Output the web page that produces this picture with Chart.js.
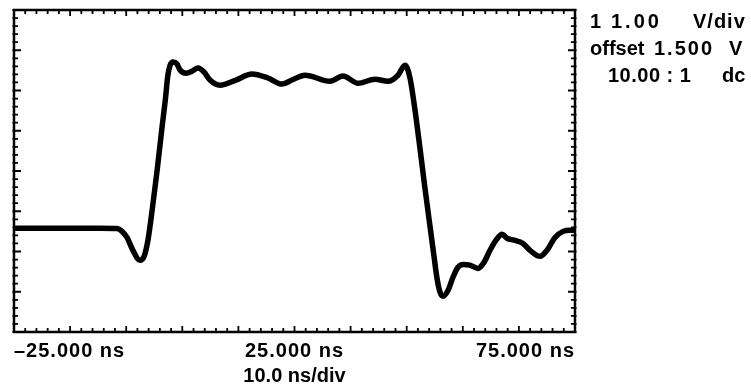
<!DOCTYPE html>
<html><head><meta charset="utf-8">
<script src="https://cdn.jsdelivr.net/npm/chart.js@4/dist/chart.umd.min.js"></script>
<style>html,body{margin:0;padding:0;background:#fff}#wrap{width:751px;height:386px;position:relative}canvas{display:block}</style>
</head><body><div id="wrap"><canvas id="c" width="751" height="386"></canvas></div>
<script>
// Time (ns) of each sample on the trace
const timeNs = [-25, -16.8, -9.7, -6.6, -5.75, -4.86, -3.8, -2.54, -1.8, -1.1, -0.4, 0.5, 1.4, 2.0, 2.4, 2.8, 3.34, 4.06, 4.59, 5.66, 6.73, 7.8, 8.87, 9.94, 11.72, 14.57, 17.42, 20.28, 22.77, 24.55, 26.87, 31.33, 33.64, 36.32, 39.35, 41.67, 43.45, 44.7, 45.59, 46.48, 47.37, 48.26, 49.15, 49.87, 50.41, 50.94, 51.47, 52.36, 53.25, 54.14, 55.04, 56.28, 57.71, 58.78, 59.85, 60.92, 61.99, 62.88, 64.13, 65.73, 66.98, 68.77, 70.01, 71.44, 72.87, 74.11, 75];
// Channel 1 voltage (V)
const voltsV = [0.08, 0.08, 0.08, 0.07, 0.0, -0.15, -0.47, -0.72, -0.62, -0.2, 0.5, 1.5, 2.6, 3.3, 3.85, 4.12, 4.21, 4.16, 4.01, 3.93, 3.98, 4.06, 3.96, 3.76, 3.63, 3.76, 3.91, 3.81, 3.66, 3.76, 3.88, 3.73, 3.86, 3.68, 3.78, 3.73, 3.88, 4.13, 3.81, 3.01, 2.06, 1.07, 0.13, -0.62, -1.17, -1.51, -1.61, -1.47, -1.14, -0.89, -0.82, -0.84, -0.92, -0.77, -0.47, -0.22, -0.07, -0.17, -0.22, -0.30, -0.47, -0.62, -0.47, -0.15, 0.0, 0.03, 0.03];
const xTickValues = [-25, 25, 75];
const xTickLabels = ['\u201325.000 ns', '25.000 ns', '75.000 ns'];
const xTitle = '10.0 ns/div';
const xRange = [-25, 75];
const yRange = [-2.5, 5.5];
const xDivision = 10, yDivision = 1, subDivisions = 5;
const infoLabels = ['1', '1.00', 'V/div', 'offset', '1.500', 'V', '10.00 : 1', 'dc'];

const FONT = '"Liberation Sans", Arial, sans-serif';
// placement of the channel read-out (x, baseline y, letter spacing)
const infoLayout = [
  [590, 28, 0], [611, 28, 3], [693, 28, 1],
  [590, 55, 0], [654, 55, 2], [729, 55, 0],
  [608, 82, 0.5], [722, 82, 0]
];

const framePlugin = {
  id: 'scopeFrame',
  beforeDraw(chart) { chart.ctx.letterSpacing = '0px'; },
  afterDatasetsDraw(chart) {
    const ctx = chart.ctx, a = chart.chartArea;
    const xs = chart.scales.x, ys = chart.scales.y;
    ctx.save();
    ctx.strokeStyle = '#000';
    ctx.lineWidth = 2.5;
    ctx.strokeRect(a.left, a.top, a.right - a.left, a.bottom - a.top);
    ctx.lineWidth = 1.8;
    ctx.beginPath();
    const nx = (xRange[1] - xRange[0]) / xDivision * subDivisions;
    for (let i = 0; i <= nx; i++) {
      const v = xRange[0] + i * xDivision / subDivisions;
      const px = xs.getPixelForValue(v);
      const len = (i % subDivisions === 0) ? 6 : 4;
      ctx.moveTo(px, a.top - 1); ctx.lineTo(px, a.top + len);
      ctx.moveTo(px, a.bottom + 1); ctx.lineTo(px, a.bottom - len);
    }
    const ny = (yRange[1] - yRange[0]) / yDivision * subDivisions;
    for (let i = 0; i <= ny; i++) {
      const v = yRange[0] + i * yDivision / subDivisions;
      const py = ys.getPixelForValue(v);
      const len = (i % subDivisions === 0) ? 7 : 4;
      ctx.moveTo(a.left - 1.5, py); ctx.lineTo(a.left + len, py);
      ctx.moveTo(a.right + 1.5, py); ctx.lineTo(a.right - len, py);
    }
    ctx.stroke();
    ctx.fillStyle = '#000';
    ctx.font = 'bold 20px ' + FONT;
    ctx.textBaseline = 'alphabetic';
    ctx.textAlign = 'left';
    infoLabels.forEach((t, i) => {
      const [x, y, ls] = infoLayout[i];
      ctx.letterSpacing = ls + 'px';
      ctx.fillText(t, x, y);
    });
    ctx.restore();
    // tick labels (drawn after datasets, z=1) get a little tracking
    ctx.letterSpacing = '1px';
  },
  afterDraw(chart) { chart.ctx.letterSpacing = '0px'; }
};

new Chart(document.getElementById('c'), {
  type: 'line',
  data: {
    datasets: [{
      data: timeNs.map((t, i) => ({ x: t, y: voltsV[i] })),
      borderColor: '#000',
      borderWidth: 5.5,
      pointRadius: 0,
      cubicInterpolationMode: 'monotone',
      borderCapStyle: 'round',
      borderJoinStyle: 'round',
      fill: false
    }]
  },
  options: {
    responsive: false,
    devicePixelRatio: 1,
    animation: false,
    layout: { padding: { left: 14, top: 10, right: 176, bottom: 0 } },
    plugins: { legend: { display: false }, tooltip: { enabled: false } },
    scales: {
      x: {
        type: 'linear', min: xRange[0], max: xRange[1], position: 'bottom',
        afterFit: s => { s.height = 54; },
        afterBuildTicks: s => { s.ticks = xTickValues.map(v => ({ value: v })); },
        grid: { display: false, drawTicks: false },
        border: { display: false },
        ticks: {
          z: 1,
          align: 'inner', autoSkip: false, maxRotation: 0, padding: 7, color: '#000',
          font: { family: FONT, size: 20, weight: 'bold' },
          callback: (v) => xTickLabels[xTickValues.indexOf(v)]
        },
        title: {
          display: true, text: xTitle, color: '#000',
          font: { family: FONT, size: 20, weight: 'bold', lineHeight: 1.0 },
          padding: { top: 0, bottom: 0 }
        }
      },
      y: { type: 'linear', min: yRange[0], max: yRange[1], display: false }
    }
  },
  plugins: [framePlugin]
});
</script>
</body></html>
